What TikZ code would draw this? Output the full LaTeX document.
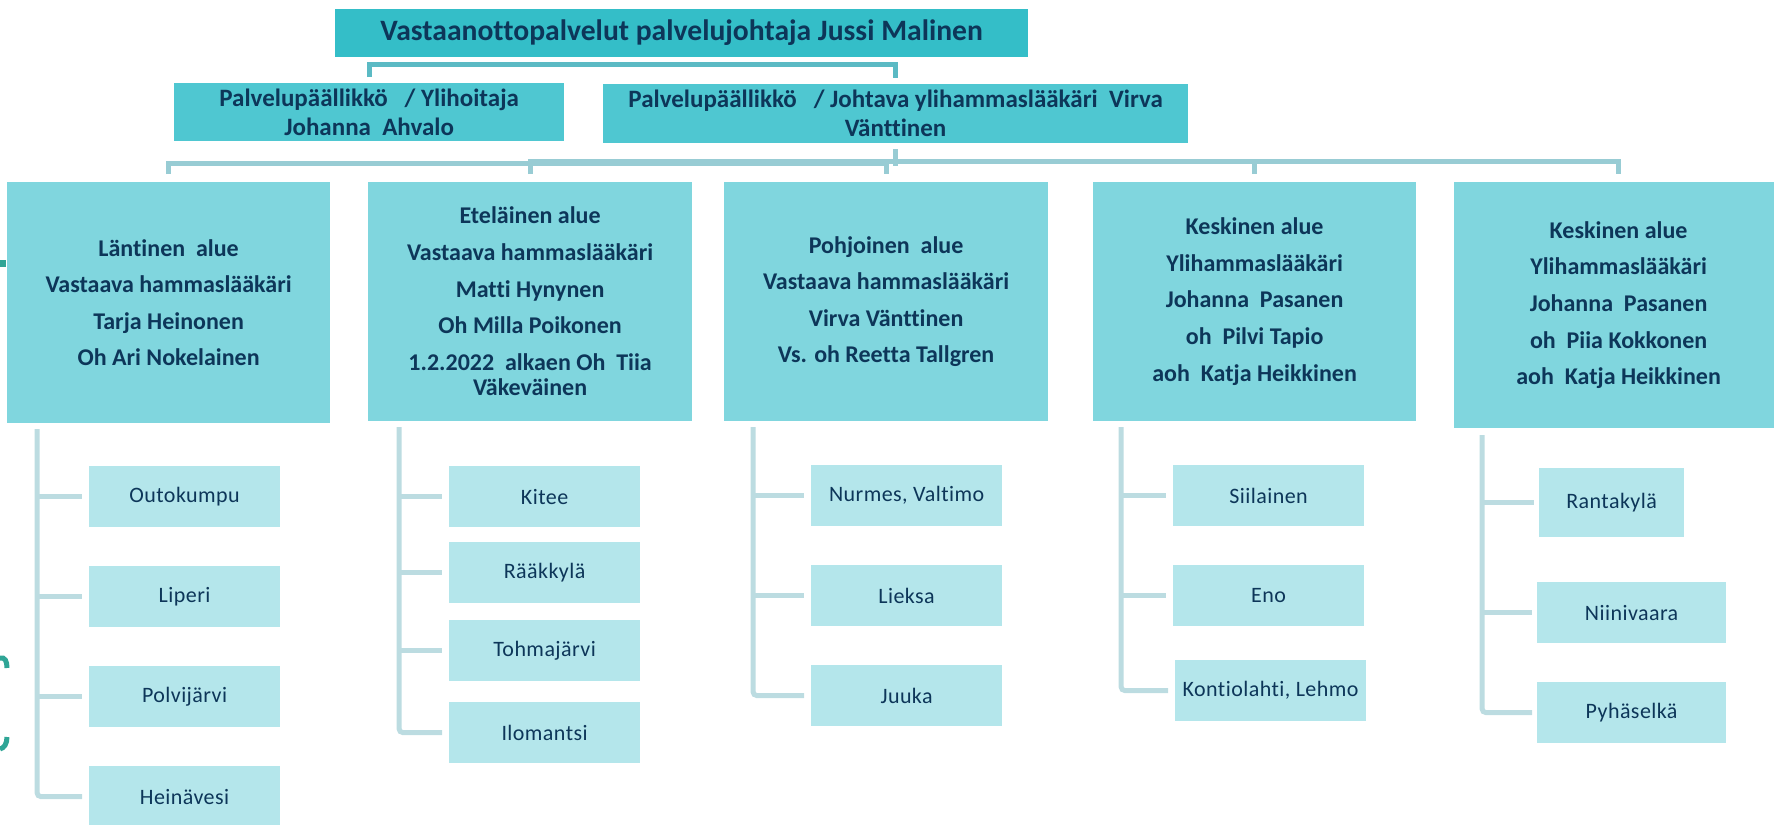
\documentclass[tikz,border=0pt]{standalone}
\usepackage{fontspec}
\setmainfont{Carlito}[RawFeature={-liga;-clig;-calt;-dlig}]
\usetikzlibrary{calc}
\definecolor{topc}{HTML}{34BEC8}
\definecolor{secc}{HTML}{4FC7D1}
\definecolor{regc}{HTML}{80D6DE}
\definecolor{leafc}{HTML}{B4E6EB}
\definecolor{navy}{HTML}{0D3659}
\definecolor{lineA}{HTML}{5BBAC4}
\definecolor{lineB}{HTML}{98CCD4}
\definecolor{lineC}{HTML}{BCDCE1}
\definecolor{markc}{HTML}{2FA596}
\tikzset{
  boxbase/.style={rectangle, inner sep=0pt, anchor=north west, draw=white, line width=0.6pt, text=navy, align=center},
  topbox/.style={boxbase, fill=topc, font=\fontsize{14.8}{16}\selectfont\bfseries},
  secbox/.style={boxbase, fill=secc, font=\fontsize{12.5}{14.5}\selectfont\bfseries},
  regbox/.style={boxbase, fill=regc, minimum width=162.5pt, minimum height=120pt, font=\fontsize{12}{18.3}\selectfont\bfseries},
  leafbox/.style={boxbase, fill=leafc, minimum width=96pt, minimum height=31pt, font=\fontsize{11}{13}\selectfont\addfontfeatures{LetterSpace=2}},
  lineone/.style={draw=lineA, line width=2.5pt},
  linetwo/.style={draw=lineB, line width=2.5pt},
  leafline/.style={draw=lineC, line width=2.5pt, rounded corners=2pt, shorten >=3pt},
}
\begin{document}
\begin{tikzpicture}[x=0.5pt,y=-0.5pt]
\useasboundingbox (0,0) rectangle (1774,825);
\clip (0,0) rectangle (1774,825);

% left edge marks
\fill[markc] (0,260) rectangle (7,267);
\draw[markc, line width=2.5pt] (0,658) .. controls (5,657) and (7,661) .. (7,668);
\draw[markc, line width=2.5pt] (7,737) .. controls (7,744) and (4,748) .. (0,749);

% top
\node[topbox, minimum width=347pt, minimum height=24.5pt] (top) at (334,8) {Vastaanottopalvelut palvelujohtaja Jussi Malinen};

% second level
\node[secbox, minimum width=195.5pt, minimum height=29.5pt] (L) at (173,82) {Palvelupäällikkö \ \ / Ylihoitaja\\Johanna \ Ahvalo};
\node[secbox, minimum width=293pt, minimum height=30pt] (R) at (602,83) {Palvelupäällikkö \ \ / Johtava ylihammaslääkäri \ Virva\\Vänttinen};

% regions
\node[regbox, minimum width=162pt, minimum height=121pt] (b1) at (6,181) {Läntinen \ alue\\Vastaava hammaslääkäri\\Tarja Heinonen\\Oh Ari Nokelainen};
\node[regbox] (b2) at (367,181) {Eteläinen alue\\Vastaava hammaslääkäri\\Matti Hynynen\\Oh Milla Poikonen\\1.2.2022 \ alkaen Oh \ Tiia\\[-5.5pt]Väkeväinen};
\node[regbox] (b3) at (723,181) {Pohjoinen \ alue\\Vastaava hammaslääkäri\\Virva Vänttinen\\Vs. oh Reetta Tallgren};
\node[regbox, minimum width=162pt] (b4) at (1092,181) {Keskinen alue\\Ylihammaslääkäri\\Johanna \ Pasanen\\oh \ Pilvi Tapio\\aoh \ Katja Heikkinen};
\node[regbox, minimum width=165pt, minimum height=123.5pt] (b5) at (1453,181) {Keskinen alue\\Ylihammaslääkäri\\Johanna \ Pasanen\\oh \ Piia Kokkonen\\aoh \ Katja Heikkinen};

% leaves
\node[leafbox] (l11) at (88,465) {Outokumpu};
\node[leafbox] (l12) at (88,565) {Liperi};
\node[leafbox] (l13) at (88,665) {Polvijärvi};
\node[leafbox] (l14) at (88,765) {Heinävesi};

\node[leafbox] (l21) at (448,465) {Kitee};
\node[leafbox] (l22) at (448,541) {Rääkkylä};
\node[leafbox] (l23) at (448,619) {Tohmajärvi};
\node[leafbox] (l24) at (448,701) {Ilomantsi};

\node[leafbox] (l31) at (810,464) {Nurmes, Valtimo};
\node[leafbox] (l32) at (810,564) {Lieksa};
\node[leafbox] (l33) at (810,664) {Juuka};

\node[leafbox] (l41) at (1172,464) {Siilainen};
\node[leafbox] (l42) at (1172,564) {Eno};
\node[leafbox] (l43) at (1174,659) {Kontiolahti, Lehmo};

\node[leafbox, minimum width=73pt, minimum height=35pt] (l51) at (1538,467) {Rantakylä};
\node[leafbox, minimum width=95pt] (l52) at (1536,581) {Niinivaara};
\node[leafbox, minimum width=95pt] (l53) at (1536,681) {Pyhäselkä};

% level 1 connector
\draw[lineone] ([yshift=2.5pt]L.north) -- ++(0,-13) -| ([yshift=2.5pt]R.north);

% level 2 connectors
\draw[linetwo] ([yshift=3.5pt]b1.north) -- ++(0,-11) -| ([yshift=3.5pt]b3.north);
\draw[linetwo] ([yshift=3.5pt]b2.north) -- ++(0,-13) -| ([yshift=3.5pt]b5.north);
\draw[linetwo] ([yshift=3.5pt]b4.north) -- ++(0,-13);
\draw[linetwo] ([yshift=-2.5pt]R.south) -- ++(0,17);

% leaf connectors
\coordinate (v1) at (37,429);
\coordinate (v2) at (399,427);
\coordinate (v3) at (753,427);
\coordinate (v4) at (1121,427);
\coordinate (v5) at (1482,435);
\draw[leafline] (v1) |- (l14.west);
\foreach \n in {l11,l12,l13} \draw[leafline] (v1 |- \n.west) -- (\n.west);
\draw[leafline] (v2) |- (l24.west);
\foreach \n in {l21,l22,l23} \draw[leafline] (v2 |- \n.west) -- (\n.west);
\draw[leafline] (v3) |- (l33.west);
\foreach \n in {l31,l32} \draw[leafline] (v3 |- \n.west) -- (\n.west);
\draw[leafline] (v4) |- (l43.west);
\foreach \n in {l41,l42} \draw[leafline] (v4 |- \n.west) -- (\n.west);
\draw[leafline, shorten >=2pt] (v5) |- (l53.west);
\foreach \n in {l51,l52} \draw[leafline, shorten >=2pt] (v5 |- \n.west) -- (\n.west);
\end{tikzpicture}
\end{document}
